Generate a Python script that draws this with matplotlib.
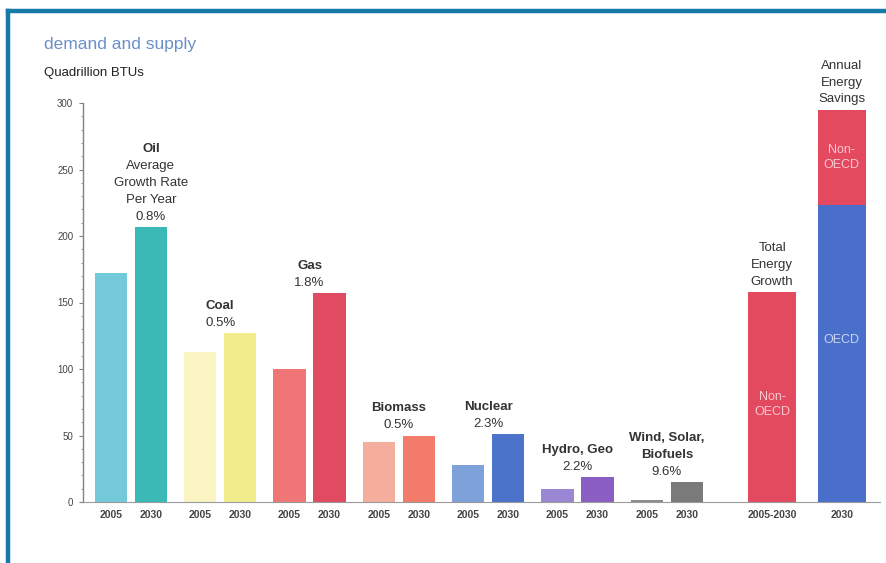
#!/usr/bin/env python3
"""Energy demand and supply, 2005 vs 2030 (Quadrillion BTUs)."""

import matplotlib
matplotlib.use("Agg")
import matplotlib.pyplot as plt
from matplotlib.lines import Line2D
from matplotlib.ticker import MultipleLocator

plt.rcParams['font.family'] = ['Liberation Sans', 'DejaVu Sans']

# data
fuels = ["Oil", "Coal", "Gas", "Biomass", "Nuclear", "Hydro, Geo", "Wind, Solar,\nBiofuels"]
growth = ["Average\nGrowth Rate\nPer Year\n0.8%", "0.5%", "1.8%", "0.5%", "2.3%", "2.2%", "9.6%"]
values_2005 = [172, 113, 100, 45, 28, 10, 1.5]
values_2030 = [207, 127, 157, 50, 51, 19, 15]
colors_2005 = ["#74c9d9", "#fbf5c4", "#f07576", "#f5ae9c", "#7ea1d9", "#9a86d2", "#8c8c8c"]
colors_2030 = ["#3ab9b6", "#f2ec8c", "#e14b62", "#f27b6a", "#4b73c9", "#8b5ec3", "#7a7a7a"]

total_growth = 158          # 2005-2030, all Non-OECD
savings_oecd = 223          # 2030 annual energy savings
savings_non_oecd = 72
yticks = [0, 50, 100, 150, 200, 250, 300]

text_color = "#333333"
fs = 9.5
ls = 1.55

fig = plt.figure(figsize=(8.86, 5.63), dpi=100)
ax = fig.add_axes([83 / 886, 1 - 502 / 563, 797 / 886, 399 / 563])

# blue frame round the panel
fig.add_artist(Line2D([8 / 886, 1], [1 - 11 / 563, 1 - 11 / 563], color="#157aa8",
                      lw=3.2, transform=fig.transFigure))
fig.add_artist(Line2D([8 / 886, 8 / 886], [0, 1 - 11 / 563], color="#157aa8",
                      lw=3.2, transform=fig.transFigure))

width = 0.36
offset = 0.224
groups = list(range(len(fuels)))
label_kw = dict(textcoords="offset points", ha="center", va="bottom",
                color=text_color, fontsize=fs, linespacing=ls, annotation_clip=False)

for i in groups:
    ax.bar(i - offset, values_2005[i], width, color=colors_2005[i])
    ax.bar(i + offset, values_2030[i], width, color=colors_2030[i])
    top = max(values_2005[i], values_2030[i])
    # oil label sits over its 2030 bar, the others over the pair
    x_lab = i + offset if i == 0 else i
    rate = ax.annotate(growth[i], (x_lab, top), xytext=(0, 3), **label_kw)
    ax.annotate(fuels[i], (0.5, 1), xycoords=rate, xytext=(0, 3.5),
                fontweight="bold", **label_kw)

x_total = 7.18
x_save = 7.96
single = 0.54

ax.bar(x_total, total_growth, single, color="#e3495f")
ax.bar(x_save, savings_oecd, single, color="#4a6fcb")
ax.bar(x_save, savings_non_oecd, single, bottom=savings_oecd, color="#e3495f")

ax.annotate("Total\nEnergy\nGrowth", (x_total, total_growth), xytext=(0, 3), **label_kw)
ax.annotate("Annual\nEnergy\nSavings", (x_save, savings_oecd + savings_non_oecd),
            xytext=(0, 3), **label_kw)

inner = dict(ha="center", va="center", color="white", alpha=0.7, fontsize=9, linespacing=1.3)
ax.text(x_total, total_growth * 0.465, "Non-\nOECD", **inner)
ax.text(x_save, savings_oecd + savings_non_oecd / 2, "Non-\nOECD", **inner)
ax.text(x_save, savings_oecd * 0.545, "OECD", **inner)

# axes
ax.set_xlim(-0.537, 8.388)
ax.set_ylim(0, 300)
for side in ["top", "right"]:
    ax.spines[side].set_visible(False)
ax.spines["left"].set_color("#8a7b92")
ax.spines["bottom"].set_color("#9a9a9a")
ax.spines["left"].set_linewidth(1.0)
ax.spines["bottom"].set_linewidth(0.8)

ax.set_yticks(yticks)
ax.yaxis.set_minor_locator(MultipleLocator(10))
ax.tick_params(axis="y", which="major", length=3, color="#8a7b92", labelsize=7,
               labelcolor="#444444", pad=4)
ax.tick_params(axis="y", which="minor", length=1.5, color="#8a7b92")

xpos = []
xlabels = []
for i in groups:
    xpos += [i - offset, i + offset]
    xlabels += ["2005", "2030"]
xpos += [x_total, x_save]
xlabels += ["2005-2030", "2030"]
ax.set_xticks(xpos)
ax.set_xticklabels(xlabels, fontweight="bold")
ax.tick_params(axis="x", length=0, labelsize=7.5, labelcolor="#444444", pad=6)

fig.text(44 / 886, 1 - 45 / 563, "demand and supply", color="#6b8fca", fontsize=12.5,
         ha="left", va="center")
fig.text(44 / 886, 1 - 73 / 563, "Quadrillion BTUs", color="#222222", fontsize=9.5,
         ha="left", va="center")

fig.savefig("out.png", dpi=100)
